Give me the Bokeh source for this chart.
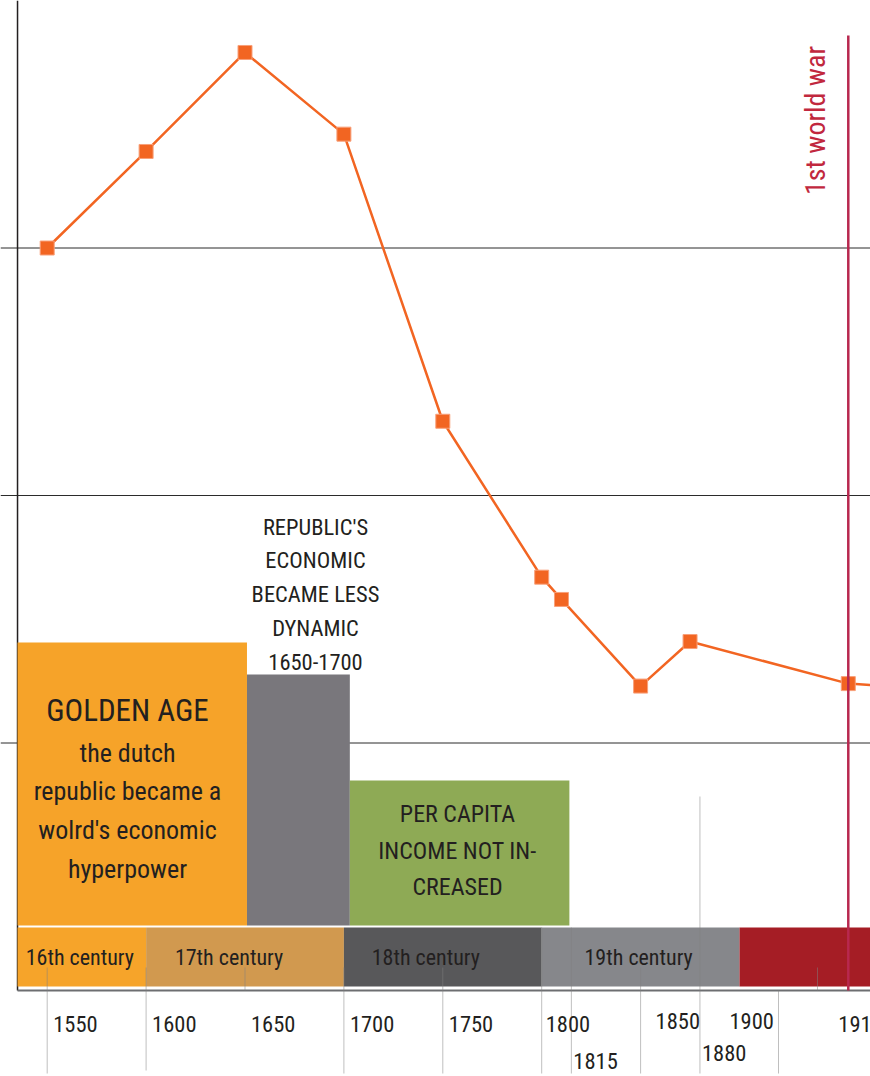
import numpy as np
from bokeh.plotting import figure
from bokeh.models import Range1d, Span
from bokeh.core.properties import value
from bokeh.embed import file_html
from bokeh.resources import INLINE

# ---------------- data ----------------
years = [1550, 1600, 1650, 1700, 1750, 1800, 1810, 1850, 1875, 1913, 1950]
income_index = [3.00, 3.39, 3.79, 3.46, 2.30, 1.67, 1.58, 1.23, 1.41, 1.24, 1.22]

tick_years = [1550, 1600, 1650, 1700, 1750, 1800, 1815, 1850, 1880, 1900, 1913]
tick_labels = ["1550", "1600", "1650", "1700", "1750", "1800", "1815", "1850", "1880", "1900", "1913"]

century_labels = ["16th century", "17th century", "18th century", "19th century", ""]
century_start = [1535, 1600, 1700, 1800, 1900]
century_end = [1600, 1700, 1800, 1900, 2000]

period_start = [1535, 1651, 1703]
period_end = [1651, 1703, 1814]
golden_lines = ["the dutch", "republic became a", "wolrd's economic", "hyperpower"]
golden_title = "GOLDEN AGE"
decline_lines = ["REPUBLIC'S", "ECONOMIC", "BECAME LESS", "DYNAMIC", "1650-1700"]
stagnation_lines = ["PER CAPITA", "INCOME NOT IN-", "CREASED"]

wwi_year = 1913
wwi_label = "1st world war"

# ---------------- layout helpers ----------------
# the timeline is linear up to 1900 and stretched afterwards (as in the infographic)
TL_YEARS = [1500, 1900, 1913, 2100]
TL_POS = [1500, 1900, 1955, 2142]


def tl(y):
    return np.interp(y, TL_YEARS, TL_POS)


PX_PER_YEAR = 1.978


def xpx(px):
    return 1550 + (px - 46.7) / PX_PER_YEAR


def ypx(py):
    return (990 - py) / 247.5


FONT = value("Roboto Condensed, DejaVu Sans Condensed, Roboto")
INK = "#231f20"

p = figure(width=870, height=1076,
           x_range=Range1d(xpx(0), xpx(870)), y_range=Range1d(ypx(1076), ypx(0)),
           output_backend="svg", toolbar_location=None,
           x_axis_location=None, y_axis_location=None, min_border=0)
p.outline_line_color = None
p.grid.visible = False
p.background_fill_color = "white"
p.border_fill_color = "white"

# horizontal gridlines
for v in [1, 2, 3]:
    p.add_layout(Span(location=v, dimension="width", line_color="#2b2b2b",
                      line_width=1, level="underlay"))

# left axis line
p.segment(x0=[1535], y0=[0], x1=[1535], y1=[ypx(0)], line_color=INK, line_width=1.5)

# period boxes
p.quad(left=tl(period_start), right=tl(period_end),
       top=[ypx(642), ypx(674), ypx(780)], bottom=ypx(925),
       fill_color=["#f6a329", "#79777c", "#8eaa55"], line_color=None)

# century bands
p.quad(left=tl(century_start), right=tl(century_end),
       top=ypx(927), bottom=ypx(986),
       fill_color=["#f6a42a", "#d1994f", "#58585a", "#86878b", "#a51d25"], line_color=None)

# bottom axis line
p.segment(x0=[1535], y0=[0], x1=[xpx(880)], y1=[0], line_color="#6d6e71", line_width=2)

# tick lines
tl_x = list(tl([1550, 1600, 1650, 1700, 1750, 1800, 1815, 1850, 1880])) + [xpx(778), xpx(817)]
tl_top = [967, 967, 967, 967, 967, 927, 927, 967, 796, 990, 967]
tl_bot = [1073, 1070, 990, 1073, 1073, 1073, 1073, 1073, 1073, 1073, 990]
p.segment(x0=tl_x, x1=tl_x, y0=[ypx(v) for v in tl_top], y1=[ypx(v) for v in tl_bot],
          line_color="#808080", line_alpha=0.5, line_width=1)

# data line
xs = tl(years)
p.line(xs, income_index, line_color="#f26522", line_width=2.5)
p.scatter(xs[:-1], income_index[:-1], marker="square", size=14,
          fill_color="#f26522", line_color="#f8a07a", line_width=1)

# WWI marker line
p.segment(x0=[tl(wwi_year)], x1=[tl(wwi_year)], y0=[0], y1=[ypx(35)],
          line_color="#b8284f", line_width=2.5)

# tick labels
tick_y = [1023, 1023, 1023, 1023, 1023, 1023, 1060, 1020, 1052, 1020, 1023]
tick_dx = [6, 6, 6, 6, 6, 4, 2, 15, 2, -10, -10]
p.text(x=tl(tick_years), y=[ypx(v) for v in tick_y], text=tick_labels, x_offset=tick_dx,
       text_align="left", text_baseline="middle", text_font=FONT,
       text_font_size="22.5px", text_color=INK)

# century labels
cx = (tl(century_start[:4]) + tl(century_end[:4])) / 2
p.text(x=cx, y=[ypx(957)] * 4, text=century_labels[:4], x_offset=[-2, -16, -17, -2],
       text_align="center", text_baseline="middle", text_font=FONT,
       text_font_size="22px", text_color=INK)

# golden age text
p.text(x=[xpx(127)], y=[ypx(710)], text=[golden_title], text_align="center",
       text_baseline="middle", text_font=FONT, text_font_size="31px", text_color=INK)
p.text(x=[xpx(127)] * 4, y=[ypx(v) for v in [752, 790.5, 829, 868]], text=golden_lines,
       text_align="center", text_baseline="middle", text_font=FONT,
       text_font_size="26px", text_color=INK)

# decline text
p.text(x=[xpx(315)] * 5, y=[ypx(v) for v in [526, 559.5, 593, 627, 661]], text=decline_lines,
       text_align="center", text_baseline="middle", text_font=FONT,
       text_font_size="22.5px", text_color=INK)

# stagnation text
p.text(x=[xpx(457)] * 3, y=[ypx(v) for v in [813, 850, 886]], text=stagnation_lines,
       text_align="center", text_baseline="middle", text_font=FONT,
       text_font_size="24px", text_color=INK)

# WWI label
p.text(x=[xpx(815)], y=[ypx(120)], text=[wwi_label], angle=np.pi / 2,
       text_align="center", text_baseline="middle", text_font=FONT,
       text_font_size="28px", text_color="#c1283e")

open("out.html", "w").write(file_html(p, INLINE))
